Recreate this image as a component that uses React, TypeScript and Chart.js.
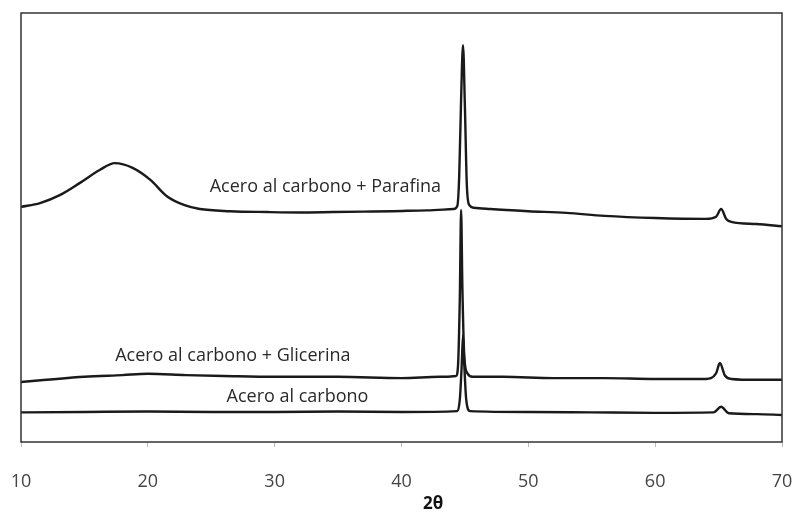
import React, { useEffect, useRef } from "react";
import { Chart, registerables } from "chart.js";

Chart.register(...registerables);

// 2θ positions (degrees) and relative intensities (arbitrary units, offset per sample)
const paraX = [10, 11.5, 13.1, 14.65, 16.2, 17.4, 18.8, 20.2, 21.5, 22.9, 24.1, 26.5, 29.4, 32, 34.6, 37, 39.3, 42, 44.1, 44.4, 44.55, 44.7, 44.85, 45.0, 45.15, 45.35, 45.7, 47, 50, 53, 56, 60, 64, 64.8, 65.2, 65.6, 66, 68, 70];
const paraY = [54.8, 55.7, 57.6, 60.4, 63.4, 65.0, 63.9, 61.1, 57.3, 55.2, 54.3, 53.8, 53.6, 53.5, 53.6, 53.7, 53.8, 54.0, 54.3, 55.0, 62, 80, 92.5, 78, 60, 55.2, 54.6, 54.3, 53.8, 53.4, 52.7, 52.2, 52.0, 52.5, 54.3, 52.0, 51.3, 50.8, 50.3];

const gliX = [10, 12, 15, 18, 20, 23, 26, 30, 35, 40, 43, 44.3, 44.45, 44.6, 44.7, 44.8, 44.95, 45.2, 45.6, 48, 52, 56, 60, 64, 64.8, 65.1, 65.5, 66, 68, 70];
const gliY = [14.0, 14.5, 15.2, 15.6, 15.9, 15.6, 15.4, 15.2, 15.2, 14.9, 15.2, 15.4, 17.5, 34, 54.1, 36, 20, 16, 15.2, 15.2, 14.9, 14.9, 14.7, 14.7, 16.0, 18.4, 15.5, 14.7, 14.5, 14.5];

const carbX = [10, 15, 20, 25, 30, 35, 40, 44.4, 44.6, 44.75, 44.85, 44.95, 45.1, 45.4, 50, 55, 60, 64.6, 65.2, 65.8, 68, 70];
const carbY = [6.9, 7.0, 7.1, 7.0, 7.0, 7.1, 7.0, 7.2, 10, 18, 24.9, 18, 10, 7.2, 7.0, 6.9, 6.8, 6.9, 8.2, 6.7, 6.5, 6.3];

const xTicks = [10, 20, 30, 40, 50, 60, 70];
const xTitle = "2θ";

const seriesNames = ["Acero al carbono + Parafina", "Acero al carbono + Glicerina", "Acero al carbono"];
// label anchor (center) in data units
const labelX = [34.0, 26.7, 31.8];
const labelY = [59.4, 20.0, 10.5];

const toPts = (xs: number[], ys: number[]) => xs.map((x, i) => ({ x, y: ys[i] }));

export default function App() {
  const ref = useRef<HTMLCanvasElement | null>(null);
  useEffect(() => {
    if (!ref.current) return;
    const decor = {
      id: "decor",
      afterDatasetsDraw(chart: any) {
        const { ctx, chartArea: a, scales } = chart;
        ctx.save();
        ctx.strokeStyle = "#333";
        ctx.lineWidth = 1.5;
        ctx.strokeRect(a.left, a.top, a.right - a.left, a.bottom - a.top);
        ctx.fillStyle = "#2a2a2a";
        ctx.font = "18px 'Open Sans'";
        ctx.textAlign = "center";
        ctx.textBaseline = "middle";
        seriesNames.forEach((n, i) => {
          ctx.fillText(n, scales.x.getPixelForValue(labelX[i]), scales.y.getPixelForValue(labelY[i]));
        });
        ctx.font = "bold 17px 'Open Sans'";
        ctx.fillStyle = "#111";
        ctx.fillText(xTitle, scales.x.getPixelForValue(42.5), 504);
        ctx.restore();
      },
    };
    const mk = (xs: number[], ys: number[]) => ({
      data: toPts(xs, ys),
      borderColor: "#1a1a1a",
      borderWidth: 2.4,
      pointRadius: 0,
      fill: false,
      cubicInterpolationMode: "monotone" as const,
    });
    const chart = new Chart(ref.current, {
      type: "line",
      data: {
        datasets: [mk(paraX, paraY), mk(gliX, gliY), mk(carbX, carbY)],
      },
      options: {
        animation: false,
        responsive: false,
        maintainAspectRatio: false,
        layout: { padding: { left: 21, right: 11, top: 13, bottom: 0 } },
        plugins: { legend: { display: false }, tooltip: { enabled: false } },
        scales: {
          x: {
            type: "linear",
            min: 10,
            max: 70,
            afterBuildTicks: (axis: any) => {
              axis.ticks = xTicks.map((v) => ({ value: v }));
            },
            afterFit: (axis: any) => {
              axis.height = 70;
              axis.paddingLeft = 0;
              axis.paddingRight = 0;
            },
            grid: { drawOnChartArea: false, drawTicks: true, tickLength: 5, color: "#bbb" },
            border: { display: false },
            ticks: {
              color: "#444",
              padding: 24,
              font: { family: "'Open Sans'", size: 18 },
              maxRotation: 0,
            },
          },
          y: {
            display: false,
            min: 0,
            max: 100,
          },
        },
      },
      plugins: [decor],
    });
    return () => chart.destroy();
  }, []);
  return (
    <div style={{ position: "fixed", left: 0, top: 0, width: 793, height: 512, background: "#fff" }}>
      <canvas ref={ref} width={793} height={512} style={{ width: 793, height: 512 }} />
    </div>
  );
}
